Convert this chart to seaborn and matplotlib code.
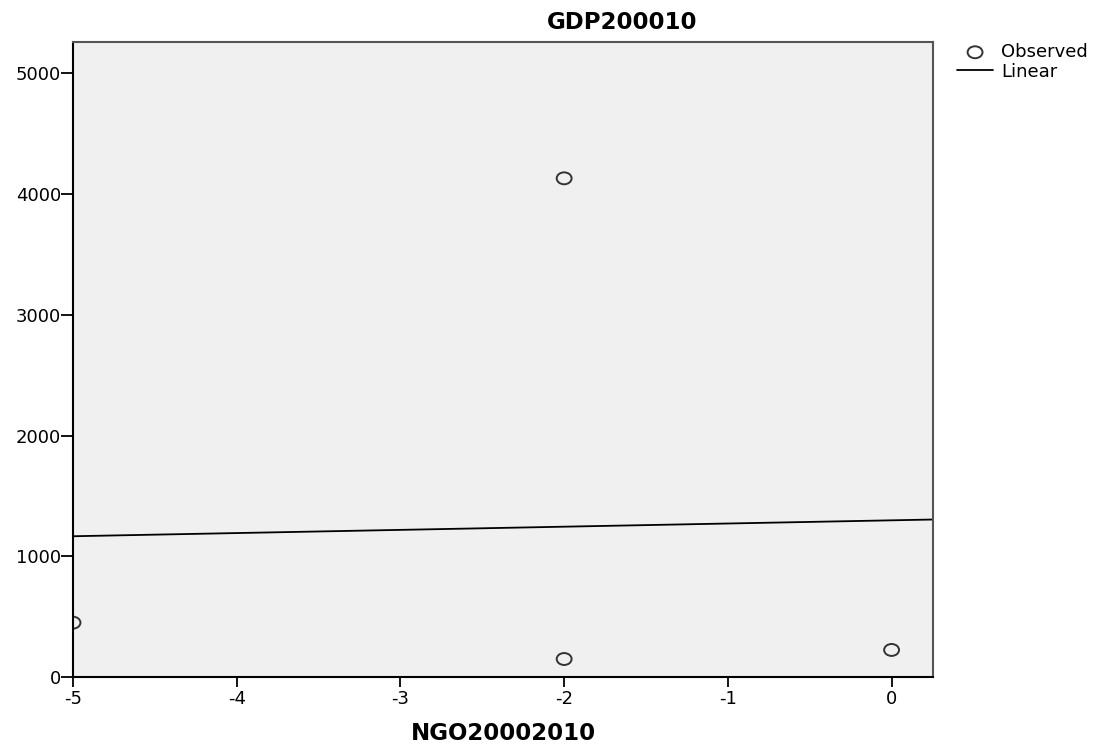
import numpy as np
import matplotlib
matplotlib.use("Agg")
import matplotlib.pyplot as plt
from matplotlib.path import Path
from matplotlib.transforms import Affine2D
import seaborn as sns

# -- data -------------------------------------------------------
ngo_change = [-5, -2, -2, 0]            # NGO20002010
gdp_change = [450, 4130, 149, 224]      # GDP200010
x_ticks = [-5, -4, -3, -2, -1, 0]
y_ticks = [0, 1000, 2000, 3000, 4000, 5000]

sns.set_style("ticks")
plt.rcParams["font.family"] = ["DejaVu Sans"]
plt.rcParams["axes.unicode_minus"] = False
plt.rcParams["text.color"] = "black"
plt.rcParams["axes.labelcolor"] = "black"
plt.rcParams["xtick.color"] = "black"
plt.rcParams["ytick.color"] = "black"

fig = plt.figure(figsize=(11, 7.48), dpi=100)
ax = fig.add_axes([73/1100, 1-677/748, 860/1100, 635/748])
ax.set_facecolor("#F0F0F0")

# axis limits first so the fitted line spans the full frame
ax.set_xlim(-5, 0.253)
ax.set_ylim(0, 5259)

# slightly wide open circles, like the SPSS export
ellipse = Path.unit_circle().transformed(Affine2D().scale(1.25, 1.0))

sns.regplot(x=ngo_change, y=gdp_change, ci=None, truncate=False, ax=ax,
            marker=ellipse,
            scatter_kws=dict(s=115, facecolors="none", edgecolors="#333333",
                             linewidths=1.4, alpha=1),
            line_kws=dict(color="black", lw=1.3))

ax.set_xticks(x_ticks)
ax.set_yticks(y_ticks)
ax.tick_params(axis="y", length=8.5, width=1.3, pad=0, labelsize=13)
ax.tick_params(axis="x", length=7.5, width=1.3, pad=1.5, labelsize=13)
for side in ["left", "bottom"]:
    ax.spines[side].set_color("black")
    ax.spines[side].set_linewidth(1.5)
for side in ["top", "right"]:
    ax.spines[side].set_visible(True)
    ax.spines[side].set_color("#555555")
    ax.spines[side].set_linewidth(1.5)

ax.set_xlabel("NGO20002010", fontsize=16.5, fontweight="bold")
ax.xaxis.label.set_va("baseline")
ax.xaxis.set_label_coords(0.5, (677-740)/635)
ax.set_ylabel("")
ax.set_title("GDP200010", fontsize=16.5, fontweight="bold", x=0.638, pad=9.4)

# legend: observed points + fitted line
handles = [ax.collections[0], ax.lines[0]]
ax.legend(handles, ["Observed", "Linear"],
          loc="upper left", bbox_to_anchor=(957/1100, 1-43/748),
          bbox_transform=fig.transFigure, frameon=False, borderpad=0,
          borderaxespad=0, handlelength=2.0, handletextpad=0.45,
          labelspacing=0.1, fontsize=13, scatterpoints=1)

plt.savefig("out.png", dpi=100)
plt.close()
